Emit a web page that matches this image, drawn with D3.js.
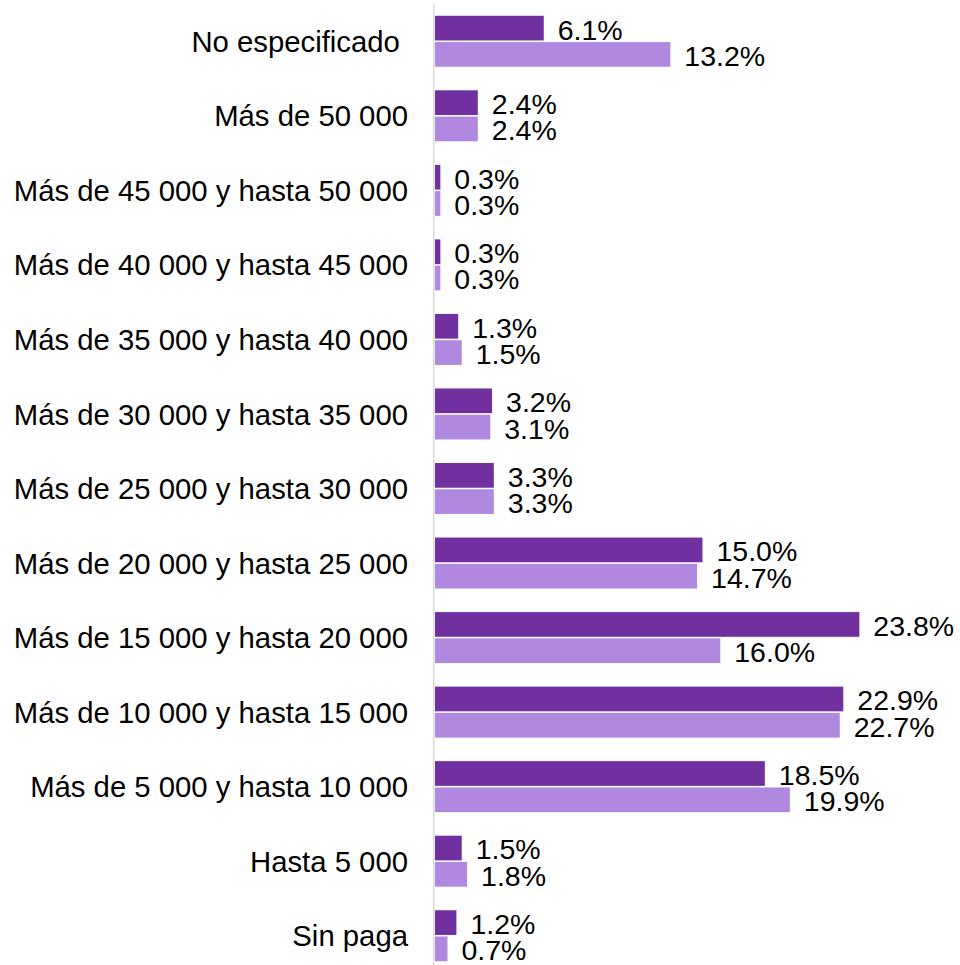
<!DOCTYPE html>
<html>
<head>
<meta charset="utf-8">
<script src="https://cdn.jsdelivr.net/npm/d3@7"></script>
<style>
  html, body { margin: 0; padding: 0; background: #fff; }
  svg { display: block; font-family: "Liberation Sans", Arial, sans-serif; }
</style>
</head>
<body>
<svg id="chart" width="960" height="965"></svg>
<script>
// categorias de arriba hacia abajo
var categories = [
  "No especificado ",
  "Más de 50 000",
  "Más de 45 000 y hasta 50 000",
  "Más de 40 000 y hasta 45 000",
  "Más de 35 000 y hasta 40 000",
  "Más de 30 000 y hasta 35 000",
  "Más de 25 000 y hasta 30 000",
  "Más de 20 000 y hasta 25 000",
  "Más de 15 000 y hasta 20 000",
  "Más de 10 000 y hasta 15 000",
  "Más de 5 000 y hasta 10 000",
  "Hasta 5 000",
  "Sin paga"
];
var serieA = [6.1, 2.4, 0.3, 0.3, 1.3, 3.2, 3.3, 15.0, 23.8, 22.9, 18.5, 1.5, 1.2];
var serieB = [13.2, 2.4, 0.3, 0.3, 1.5, 3.1, 3.3, 14.7, 16.0, 22.7, 19.9, 1.8, 0.7];
var seriesNames = ["serieA", "serieB"];
var colors = ["#7030a0", "#b088e0"];

var svg = d3.select("#chart");
var catSize = 29.3;
var valSize = 28.5;

var x = d3.scaleLinear().domain([0, 25]).range([435, 880.75]);
var y = d3.scaleBand().domain(categories).range([4, 973]).padding(0);
var inner = d3.scaleBand().domain(seriesNames)
  .range([y.bandwidth() / 2 - 25.5, y.bandwidth() / 2 + 25.5])
  .paddingInner(0.06);
var color = d3.scaleOrdinal().domain(seriesNames).range(colors);

var rows = categories.map(function(c, i) {
  return { cat: c, vals: [
    { key: "serieA", value: serieA[i] },
    { key: "serieB", value: serieB[i] }
  ]};
});

// eje vertical
svg.append("line")
  .attr("x1", 433.75).attr("x2", 433.75)
  .attr("y1", 4).attr("y2", 965)
  .attr("stroke", "#d9d9d9")
  .attr("stroke-width", 1.5);

// etiquetas de categoria
svg.selectAll("text.cat")
  .data(categories)
  .enter()
  .append("text")
    .attr("class", "cat")
    .attr("xml:space", "preserve")
    .style("white-space", "pre")
    .attr("x", 408)
    .attr("y", d => y(d) + y.bandwidth() / 2)
    .attr("dy", "0.36em")
    .attr("text-anchor", "end")
    .attr("fill", "#000")
    .style("font-size", catSize + "px")
    .text(d => d);

var groups = svg.selectAll("g.row")
  .data(rows)
  .enter()
  .append("g")
    .attr("class", "row")
    .attr("transform", d => `translate(0, ${y(d.cat)})`);

groups.selectAll("rect")
  .data(d => d.vals)
  .enter()
  .append("rect")
    .attr("x", x(0))
    .attr("y", d => inner(d.key))
    .attr("width", d => x(d.value) - x(0))
    .attr("height", inner.bandwidth())
    .attr("fill", d => color(d.key));

groups.selectAll("text.val")
  .data(d => d.vals)
  .enter()
  .append("text")
    .attr("class", "val")
    .attr("x", d => x(d.value) + 14)
    .attr("y", d => inner(d.key) + inner.bandwidth() / 2)
    .attr("dy", "0.4em")
    .attr("fill", "#000")
    .style("font-size", valSize + "px")
    .text(d => d.value.toFixed(1) + "%");
</script>
</body>
</html>
